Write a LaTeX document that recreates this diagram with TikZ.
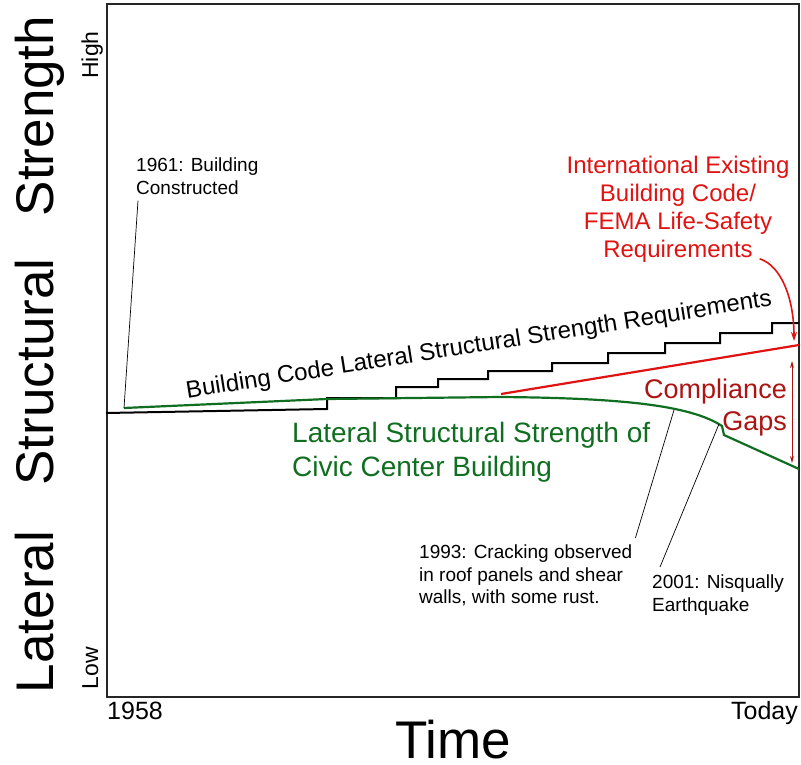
\documentclass[tikz,border=0pt]{standalone}
\usepackage{fontspec}
\setmainfont{Liberation Sans}
\usetikzlibrary{arrows.meta}
\definecolor{codegreen}{RGB}{16,110,32}
\definecolor{reqred}{RGB}{224,18,18}
\definecolor{gapred}{RGB}{172,20,20}

\begin{document}
\begin{tikzpicture}[x=1pt,y=-1pt,
    axislbl/.style={inner sep=0pt,rotate=90,anchor=base},
    note/.style={inner sep=0pt,align=left,anchor=north west,font=\fontsize{19}{22.3}\selectfont},
    leader/.style={line width=0.7pt},
    reqline/.style={reqred,line width=2.2pt},
    gaparrow/.style={gapred,line width=0.9pt,{Stealth[length=7pt,width=4pt]}-{Stealth[length=7pt,width=4pt]}}]
  \useasboundingbox (0,0) rectangle (801,765);
  \draw[line width=2.4pt,black!85] (107,4) rectangle (799,697);
  \node[axislbl,font=\fontsize{53}{60}\selectfont] (lateral) at (53,612) {Lateral};
  \node[axislbl,font=\fontsize{53}{60}\selectfont] (structural) at (53,372) {Structural};
  \node[axislbl,font=\fontsize{53}{60}\selectfont] (strength) at (53,116) {Strength};
  \node[axislbl,font=\fontsize{23}{26}\selectfont] (high) at (98,55) {High};
  \node[axislbl,font=\fontsize{23}{26}\selectfont] (low) at (98,668) {Low};
  \node[inner sep=0pt,anchor=base west,font=\fontsize{25}{30}\selectfont] (start) at (107,719) {1958};
  \node[inner sep=0pt,anchor=base east,font=\fontsize{25}{30}\selectfont] (today) at (798,719) {Today};
  \node[inner sep=0pt,anchor=base,font=\fontsize{53}{60}\selectfont] (time) at (453,758) {Time};
  \draw[line width=2pt] (106,413) -- (327,409) -- (327,398) -- (396,398) -- (396,387)
    -- (438,387) -- (438,379) -- (488,379) -- (488,371) -- (552,371) -- (552,363)
    -- (608,363) -- (608,353) -- (665,353) -- (665,343) -- (720,343) -- (720,333)
    -- (772,333) -- (772,323) -- (799,323);
  \draw[codegreen,line width=2.2pt] (124,408) -- (327,399) -- (500,397)
    .. controls (620,398) and (690,405) .. (722,426) -- (724,435) -- (799,469);
  \draw[reqline] (501,394) -- (799,345);
  \node[inner sep=0pt,anchor=base,rotate=9,font=\fontsize{24}{28}\selectfont] (codereq) at (480,352)
    {Building Code Lateral Structural Strength Requirements};
  \node[inner sep=0pt,anchor=north west,align=left,text=codegreen,font=\fontsize{28}{34}\selectfont] (civic) at (292,422)
    {Lateral Structural Strength of\\Civic Center Building};
  \node[inner sep=0pt,anchor=north east,align=right,text=gapred,font=\fontsize{27}{32}\selectfont] (gaps) at (787,379)
    {Compliance\\Gaps};
  \node[inner sep=0pt,anchor=north,align=center,text=reqred,font=\fontsize{24}{28}\selectfont] (iebc) at (678,156)
    {International Existing\\Building Code/\\FEMA Life-Safety\\Requirements};
  \node[note] (yr61) at (136,158) {1961: Building\\Constructed};
  \node[note] (yr93) at (419,545) {1993: Cracking observed\\in roof panels and shear\\walls, with some rust.};
  \node[note] (yr01) at (652,575) {2001: Nisqually\\Earthquake};
  \coordinate (built) at (124,408);
  \coordinate (crack) at (674,410);
  \coordinate (quake) at (719,424);
  \coordinate (ieend) at (794,341);
  \coordinate (gaptop) at (792,361);
  \coordinate (gapbot) at (792,463);
  \draw[leader] ([xshift=2pt,yshift=-6pt]yr61.south west) -- (built);
  \draw[leader] ([xshift=3pt,yshift=7pt]yr93.north east) -- (crack);
  \draw[leader] ([xshift=8pt,yshift=8pt]yr01.north west) -- (quake);
  \draw[reqred,line width=1.6pt,-{Stealth[length=9pt,width=6pt]}] ([xshift=-30pt,yshift=4pt]iebc.south east)
    .. controls (782,266) and (794,300) .. (ieend);
  \draw[gaparrow] (gaptop) -- (gapbot);
\end{tikzpicture}
\end{document}
